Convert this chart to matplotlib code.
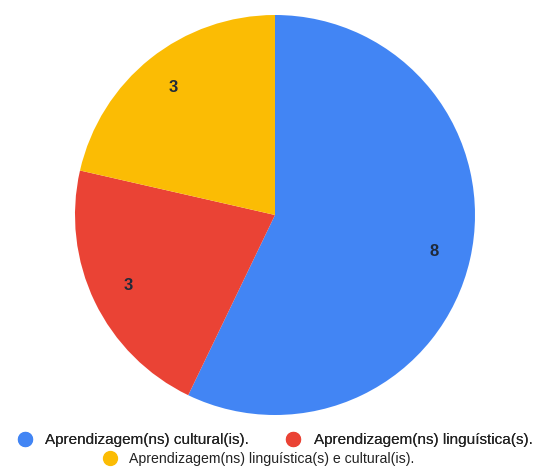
import matplotlib
matplotlib.use("Agg")
import matplotlib.pyplot as plt
from matplotlib.lines import Line2D

categories = ["Aprendizagem(ns) cultural(is).",
              "Aprendizagem(ns) linguística(s).",
              "Aprendizagem(ns) linguística(s) e cultural(is)."]
values = [8, 3, 3]
colors = ["#4285F4", "#EA4335", "#FBBC04"]

plt.rcParams['font.family'] = ['Liberation Sans', 'DejaVu Sans']

W, H = 537, 470
fig = plt.figure(figsize=(W / 100, H / 100), dpi=100)
cx, cy, r = 275, 215, 200
ax = fig.add_axes([(cx - r) / W, (H - cy - r) / H, 2 * r / W, 2 * r / H])
wedges, texts = ax.pie(values, colors=colors, startangle=90, counterclock=False,
                       labels=[str(v) for v in values], labeldistance=0.815,
                       textprops=dict(fontsize=12, color="#1f2a3a",
                                      fontweight="bold"))
for t in texts:
    t.set_horizontalalignment("center")
    t.set_verticalalignment("center")
ax.set_xlim(-1, 1)
ax.set_ylim(-1, 1)
ax.set_aspect("equal")

handles = [Line2D([], [], marker="o", linestyle="", markersize=10,
                  markerfacecolor=c, markeredgecolor=c) for c in colors]
leg1 = fig.legend(handles[:2], categories[:2], loc="center", ncol=2,
                  bbox_to_anchor=(0.505, (H - 440) / H), frameon=False,
                  fontsize=11, handletextpad=0.35, columnspacing=1.9,
                  labelcolor="#222222", borderaxespad=0, borderpad=0)
fig.add_artist(leg1)
fig.legend(handles[2:], categories[2:], loc="center",
           bbox_to_anchor=(0.475, (H - 459) / H), frameon=False,
           fontsize=10.2, handletextpad=0.4, labelcolor="#222222",
           borderaxespad=0, borderpad=0)

fig.savefig("out.png", dpi=100, facecolor="white")
